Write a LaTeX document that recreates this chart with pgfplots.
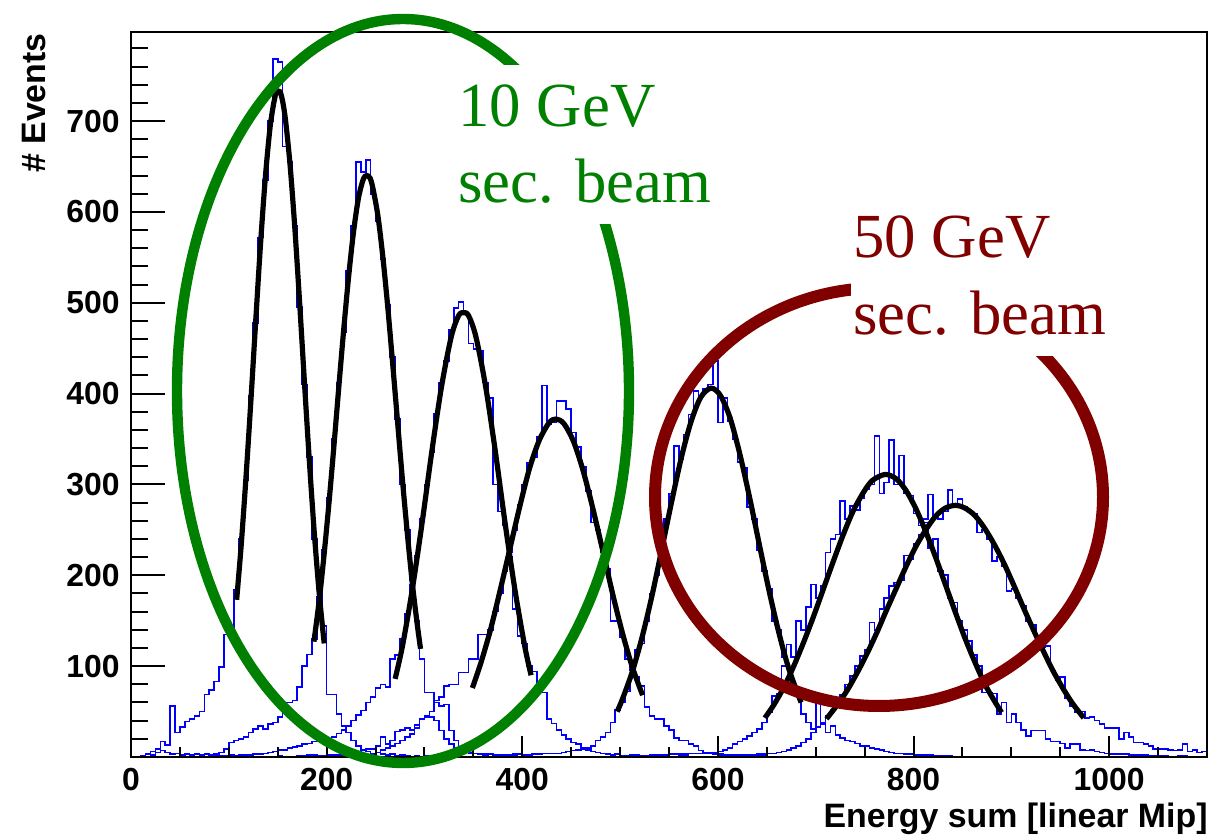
\documentclass[border=0pt]{standalone}
\usepackage{fontspec}
\setmainfont{Liberation Sans}
\newfontfamily\timesfont{Liberation Serif}
\usepackage{pgfplots}
\pgfplotsset{compat=1.18}
\definecolor{rootgreen}{RGB}{0,128,0}
\definecolor{rootred}{RGB}{128,0,0}
\definecolor{rootblue}{RGB}{0,0,255}
\begin{document}
\begin{tikzpicture}
\path[use as bounding box] (0,0) rectangle (608bp,417.5bp);
\pgfplotsset{
  rootaxis/.style={
    at={(65.5bp,39bp)}, anchor=south west,
    width=538bp, height=362.5bp, scale only axis,
    xmin=0, xmax=1100, ymin=0, ymax=798,
    axis line style={line width=1bp, black},
    tick style={black, line width=1bp},
    tick align=inside,
    xtick pos=bottom, ytick pos=left,
    ticklabel style={font=\fontsize{16}{19}\selectfont\bfseries, inner sep=0pt},
  },
  hist/.style={const plot, rootblue, line width=0.8bp},
  fit/.style={black, line width=2.6bp, smooth},
}
% data axis with y ticks
\begin{axis}[rootaxis,
  xtick=\empty,
  ytick={100,200,300,400,500,600,700},
  yticklabels={100,200,300,400,500,600,700},
  minor ytick={20,40,...,780},
  major tick length=17bp, minor tick length=8.5bp,
  yticklabel style={anchor=east, xshift=-5.5bp},
]
% ---------------- histograms ----------------
\addplot[hist] coordinates {
(0,0) (10,1) (15,3) (20,6) (25,9) (30,17) (35,13) (40,56) (45,27) (50,33) (55,39) (60,42) (65,45) (70,50) (75,69) (80,74) (85,83) (90,99) (95,135) (100,137) (105,184) (110,240) (115,305) (120,398) (125,478) (130,572) (135,635) (140,700) (145,768) (150,765) (155,672) (160,655) (165,585) (170,495) (175,410) (180,330) (185,240) (190,185) (195,144) (200,69) (205,69) (210,47) (215,34) (220,27) (225,18) (230,12) (235,8) (240,6) (245,4) (250,5) (255,3) (260,2) (265,3) (270,1) (275,2) (280,1) (285,0) (290,1) (295,0) (1100,0)};
\addplot[hist] coordinates {
(0,0) (20,2) (25,5) (30,7) (35,5) (40,3) (45,4) (50,2) (55,3) (60,2) (65,3) (70,2) (75,3) (80,2) (85,3) (90,5) (95,9) (100,16) (105,18) (110,20) (115,22) (120,27) (125,31) (130,34) (135,31) (140,36) (145,38) (150,44) (155,60) (160,60) (165,62) (170,77) (175,100) (180,113) (185,130) (190,176) (195,228) (200,285) (205,350) (210,412) (215,468) (220,535) (225,585) (230,655) (235,644) (240,657) (245,620) (250,590) (255,548) (260,498) (265,440) (270,372) (275,300) (280,250) (285,195) (290,150) (295,108) (300,71) (305,71) (310,60) (315,56) (320,58) (325,29) (330,18) (335,10) (340,7) (345,5) (350,4) (355,3) (360,2) (365,3) (370,1) (375,2) (380,1) (385,0) (390,1) (395,0) (1100,0)};
\addplot[hist] coordinates {
(0,0) (60,1) (65,0) (80,1) (85,2) (90,1) (100,2) (105,1) (110,2) (120,2) (125,3) (130,3) (135,4) (140,5) (145,6) (150,8) (155,8) (160,10) (165,11) (170,12) (175,14) (180,15) (185,17) (190,18) (195,20) (200,20) (205,22) (210,26) (215,30) (220,34) (225,40) (230,46) (235,51) (240,60) (245,66) (250,76) (255,80) (260,77) (265,108) (270,112) (275,130) (280,158) (285,190) (290,222) (295,262) (300,300) (305,335) (310,378) (315,412) (320,436) (325,470) (330,494) (335,501) (340,487) (345,455) (350,449) (355,447) (360,412) (365,395) (370,300) (375,270) (380,255) (385,220) (390,163) (395,133) (400,125) (405,100) (410,94) (415,75) (420,71) (425,42) (430,37) (435,30) (440,24) (445,20) (450,16) (455,14) (460,10) (465,8) (470,6) (475,5) (480,4) (485,3) (490,2) (495,3) (500,1) (505,0) (510,1) (515,0) (1100,0)};
\addplot[hist] coordinates {
(0,0) (120,1) (125,0) (150,1) (155,0) (170,1) (180,2) (190,1) (200,2) (210,2) (220,3) (225,3) (230,5) (235,8) (240,9) (245,9) (250,12) (255,22) (260,14) (265,18) (270,28) (275,30) (280,32) (285,30) (290,35) (295,42) (300,44) (305,50) (310,62) (315,66) (320,78) (325,80) (330,80) (335,93) (340,93) (345,108) (350,108) (355,135) (360,135) (365,140) (370,160) (375,180) (380,205) (385,225) (390,250) (395,278) (400,300) (405,324) (410,330) (415,352) (420,409) (425,366) (430,368) (435,392) (440,392) (445,383) (450,357) (455,341) (460,319) (465,293) (470,258) (475,250) (480,225) (485,207) (490,150) (495,150) (500,132) (505,108) (510,95) (515,88) (520,78) (525,55) (530,45) (535,42) (540,42) (545,34) (550,30) (555,21) (560,18) (565,18) (570,14) (575,12) (580,7) (585,5) (590,4) (595,3) (600,3) (605,2) (610,2) (620,2) (630,1) (640,1) (650,0) (1100,0)};
\addplot[hist] coordinates {
(0,0) (200,1) (210,0) (230,1) (240,2) (245,3) (250,5) (255,8) (260,10) (265,12) (270,15) (275,18) (280,22) (285,25) (290,32) (295,42) (300,45) (305,44) (310,40) (315,29) (320,20) (325,14) (330,10) (335,7) (340,5) (345,4) (350,4) (360,3) (370,2) (380,2) (390,3) (400,2) (410,3) (420,4) (430,4) (440,5) (445,6) (450,7) (455,8) (460,9) (465,10) (470,12) (475,18) (480,22) (485,27) (490,38) (495,52) (500,60) (505,72) (510,88) (515,118) (520,125) (525,150) (530,180) (535,200) (540,220) (545,262) (550,290) (555,342) (560,328) (565,355) (570,377) (575,403) (580,398) (585,405) (590,410) (595,436) (600,368) (605,395) (610,370) (615,350) (620,325) (625,318) (630,275) (635,262) (640,228) (645,205) (650,185) (655,150) (660,140) (665,110) (670,98) (675,80) (680,68) (685,47) (690,38) (695,31) (700,33) (705,38) (710,27) (715,34) (720,24) (725,21) (730,18) (735,17) (740,15) (745,12) (750,12) (755,10) (760,9) (765,8) (770,6) (775,5) (780,4) (790,3) (800,2) (810,2) (820,1) (830,1) (840,0) (1100,0)};
\addplot[hist] coordinates {
(0,0) (300,1) (310,0) (400,1) (410,0) (500,1) (510,2) (520,1) (530,2) (540,2) (550,3) (560,3) (570,4) (580,4) (590,5) (600,6) (605,8) (610,10) (615,14) (620,17) (625,20) (630,23) (635,27) (640,31) (645,38) (650,49) (655,67) (660,70) (665,100) (670,124) (675,110) (680,150) (685,140) (690,165) (695,190) (700,175) (705,188) (710,225) (715,240) (720,245) (725,282) (730,262) (735,276) (740,272) (745,285) (750,295) (755,300) (760,353) (765,290) (770,302) (775,349) (780,300) (785,332) (790,290) (795,288) (800,268) (805,255) (810,258) (815,230) (820,240) (825,205) (830,200) (835,175) (840,170) (845,150) (850,140) (855,128) (860,112) (865,100) (870,71) (875,71) (880,70) (885,47) (890,60) (895,38) (900,47) (905,38) (910,30) (915,23) (920,29) (925,29) (930,29) (935,20) (940,17) (945,17) (950,15) (955,10) (960,14) (965,14) (970,8) (975,7) (980,8) (985,6) (990,5) (995,4) (1000,3) (1010,3) (1020,2) (1030,2) (1040,1) (1050,1) (1060,0) (1070,1) (1080,0) (1100,0)};
\addplot[hist] coordinates {
(0,0) (500,1) (510,0) (560,1) (570,0) (600,1) (610,1) (620,2) (630,2) (640,3) (650,4) (660,5) (665,6) (670,8) (675,10) (680,12) (685,16) (690,20) (695,27) (700,60) (705,36) (710,45) (715,52) (720,55) (725,68) (730,80) (735,89) (740,100) (745,111) (750,118) (755,148) (760,140) (765,163) (770,175) (775,188) (780,192) (785,195) (790,222) (795,218) (800,235) (805,245) (810,262) (815,289) (820,265) (825,262) (830,270) (835,294) (840,278) (845,284) (850,275) (855,271) (860,268) (865,247) (870,250) (875,240) (880,216) (885,220) (890,210) (895,183) (900,185) (905,175) (910,166) (915,150) (920,145) (925,130) (930,121) (935,122) (940,95) (945,85) (950,88) (955,65) (960,56) (965,49) (970,50) (975,43) (980,44) (985,40) (990,36) (995,32) (1000,32) (1005,32) (1010,20) (1015,27) (1020,22) (1025,16) (1030,16) (1035,14) (1040,12) (1045,9) (1050,9) (1055,9) (1060,8) (1065,7) (1070,8) (1075,14) (1080,6) (1085,8) (1090,5) (1095,6) (1100,0)};
% ---------------- fits ----------------
\addplot[fit] coordinates {
(108,173) (112.5,231) (117.5,307) (122.5,391) (127.5,480) (132.5,566) (137.5,640) (142.5,696) (147.5,728) (150.5,733) (153.5,729) (157.5,705) (162.5,653) (167.5,582) (172.5,498) (177.5,409) (182.5,323) (187.5,245) (192.5,179) (197.5,125)};
\addplot[fit] coordinates {
(187,127) (192.5,173) (197.5,224) (202.5,281) (207.5,343) (212.5,408) (217.5,471) (222.5,529) (227.5,578) (232.5,615) (237.5,636) (241,640) (244.5,637) (247.5,625) (252.5,595) (257.5,550) (262.5,495) (267.5,433) (272.5,369) (277.5,305) (282.5,246) (287.5,192) (292.5,147) (296,119)};
\addplot[fit] coordinates {
(270,86) (277.5,122) (287.5,184) (297.5,257) (307.5,336) (317.5,408) (327.5,463) (335,486) (340,489) (345,486) (352.5,463) (362.5,408) (372.5,336) (382.5,257) (392.5,184) (402.5,122) (409,90)};
\addplot[fit] coordinates {
(349,76) (357.5,103) (367.5,140) (377.5,184) (387.5,230) (397.5,276) (407.5,318) (417.5,349) (427.5,368) (434.5,372) (442.5,367) (452.5,347) (462.5,314) (472.5,272) (482.5,226) (492.5,179) (502.5,136) (512.5,99) (523,68)};
\addplot[fit] coordinates {
(497,50) (502.5,64) (512.5,94) (522.5,132) (532.5,177) (542.5,228) (552.5,280) (562.5,329) (572.5,369) (582.5,396) (593,406) (602.5,398) (612.5,373) (622.5,333) (632.5,285) (642.5,233) (652.5,182) (662.5,136) (672.5,97) (685,60)};
\addplot[fit] coordinates {
(648,43) (657.5,58) (667.5,77) (677.5,100) (687.5,126) (697.5,154) (707.5,184) (717.5,214) (727.5,243) (737.5,269) (747.5,289) (757.5,304) (771,311) (782.5,306) (792.5,293) (802.5,273) (812.5,248) (822.5,220) (832.5,190) (842.5,160) (852.5,131) (862.5,105) (872.5,81) (882.5,62) (890,49)};
\addplot[fit] coordinates {
(711,42) (722.5,58) (732.5,74) (742.5,93) (752.5,114) (762.5,137) (772.5,162) (782.5,186) (792.5,210) (802.5,232) (812.5,250) (822.5,265) (832.5,274) (843,277) (852.5,274) (862.5,266) (872.5,252) (882.5,234) (892.5,213) (902.5,189) (912.5,164) (922.5,140) (932.5,117) (942.5,95) (952.5,76) (962.5,59) (974,43)};
\end{axis}
% x tick axis
\begin{axis}[rootaxis,
  ytick=\empty,
  xtick={0,200,400,600,800,1000},
  xticklabels={0,200,400,600,800,1000},
  minor xtick={50,100,...,1100},
  major tick length=10.5bp, minor tick length=5bp,
  xticklabel style={anchor=north, yshift=-5.2bp},
]
\end{axis}
% axis titles
\node[rotate=90, anchor=base east, inner sep=0pt, font=\fontsize{17}{20}\selectfont\bfseries] at (22.5bp,401bp) {\# Events};
\node[anchor=base east, inner sep=0pt, font=\fontsize{17}{20}\selectfont\bfseries] at (604bp,4bp) {Energy sum [linear Mip]};
% annotations
\draw[rootgreen, line width=5.2bp] (201.5bp,222bp) ellipse [x radius=113bp, y radius=186bp];
\draw[rootred, line width=6bp] (439.5bp,169bp) ellipse [x radius=112bp, y radius=104.5bp];
\tikzset{anno/.style={fill=white, inner xsep=1bp, inner ysep=10bp, anchor=base west, font=\timesfont\fontsize{31.5}{38}\selectfont}}
\node[anno, text=rootgreen] at (228bp,354bp) {10 GeV};
\node[anno, text=rootgreen] at (228bp,316bp) {sec. beam};
\node[anno, text=rootred] at (425.5bp,288.5bp) {50 GeV};
\node[anno, text=rootred] at (425.5bp,250bp) {sec. beam};
\end{tikzpicture}
\end{document}
